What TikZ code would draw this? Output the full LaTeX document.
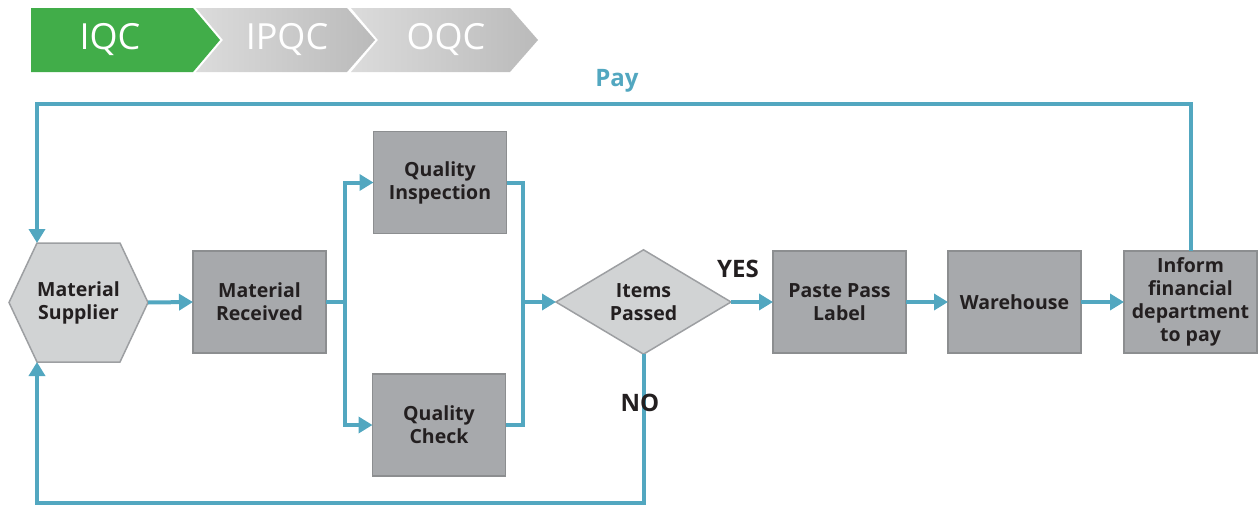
\documentclass[tikz,border=0pt]{standalone}
\usepackage{fontspec}
\setmainfont{Open Sans}
\usetikzlibrary{positioning}
\usetikzlibrary{arrows.meta}
\usetikzlibrary{shapes.geometric}
\definecolor{flowteal}{RGB}{82,167,192}
\definecolor{boxgray}{RGB}{167,169,172}
\definecolor{boxedge}{RGB}{140,142,144}
\definecolor{hexgray}{RGB}{209,211,212}
\definecolor{hexedge}{RGB}{157,159,162}
\definecolor{stagegreen}{RGB}{65,173,73}
\definecolor{inkdark}{RGB}{35,31,32}
\tikzset{
	every node/.style={align=center,outer sep=0pt,text=inkdark},
	boxfont/.style={font=\bfseries\fontsize{19.5}{23}\selectfont},
	stepbox/.style={draw=boxedge,fill=boxgray,line width=1.5pt,minimum width=133,minimum height=102,inner sep=0pt,boxfont},
	flow/.style={draw=flowteal,line width=4pt,-{Triangle[length=14pt,width=16pt]}},
	line/.style={draw=flowteal,line width=4pt},
	answer/.style={font=\bfseries\fontsize{24}{28}\selectfont},
	stage/.style={text=white,font=\fontsize{36}{40}\selectfont},
}

\begin{document}
\begin{tikzpicture}[x=1pt,y=-1pt]
	\useasboundingbox (0,0) rectangle (1258,506);

	%stage banner.....................
	\fill [stagegreen] (31,8) -- (193,8) -- (220,40) -- (193,72) -- (31,72) -- cycle;
	\shade [left color=black!14,right color=black!27] (196,8) -- (347,8) -- (375,40) -- (347,72) -- (196,72) -- (223,40) -- cycle;
	\shade [left color=black!14,right color=black!27] (351,8) -- (510,8) -- (538,40) -- (510,72) -- (351,72) -- (378,40) -- cycle;
	\node [stage] (iqc) at (110,40) {IQC};
	\node [stage] (ipqc) at (287,40) {IPQC};
	\node [stage] (oqc) at (446,40) {OQC};

	%supplier hexagon....................
	\coordinate (suptop) at (37,243);
	\coordinate (supbot) at (37,362);
	\draw [draw=hexedge,fill=hexgray,line width=1.5pt] (9,302.5) -- (suptop) -- (120,243) -- (148,302.5) -- (120,362) -- (supbot) -- cycle;
	\node [minimum width=139,minimum height=119,inner sep=0pt,boxfont] (sup) at (78.5,302.5) {Material\\Supplier};

	%boxes...................
	\node [stepbox] (rec) at (259.5,302) {Material\\Received};
	\node [stepbox] (qi) at (440,182.5) {Quality\\Inspection};
	\node [stepbox] (qc) at (439,425) {Quality\\Check};
	\node [stepbox] (paste) at (839.5,302) {Paste Pass\\Label};
	\node [stepbox] (ware) at (1014.5,302) {Warehouse};
	\node [stepbox] (inform) at (1190.5,302) {Inform\\financial\\department\\to pay};

	% decision diamond...................
	\node [diamond,draw=hexedge,fill=hexgray,line width=1.5pt,minimum width=175,minimum height=87,inner sep=0pt,boxfont] (dec) at (643.5,302) {Items\\Passed};

	% connectors..............................
	\draw [flow] (sup.east) -- (rec.west);
	\draw [line] (rec.east) -- (345,302) coordinate (split);
	\draw [flow] (split) |- (qi.west);
	\draw [flow] (split) |- (qc.west);
	\coordinate (join) at (523,302);
	\draw [line] (qi.east) -| (join);
	\draw [line] (qc.east) -| (join);
	\draw [flow] (join) -- (dec.west);
	\draw [flow] (dec.east) -- (paste.west);
	\draw [flow] (paste.east) -- (ware.west);
	\draw [flow] (ware.east) -- (inform.west);

	% pay loop and no loop.........
	\draw [flow] (inform.north) |- (37,104) -- (suptop);
	\draw [flow] (dec.south) |- (37,503) -- (supbot);

	% labels..............................
	\node [answer,text=flowteal] (pay) at (617,81) {Pay};
	\node [answer] (yes) at (738,269) {YES};
	\node [answer] (no) at (640,403) {NO};
\end{tikzpicture}
\end{document}
